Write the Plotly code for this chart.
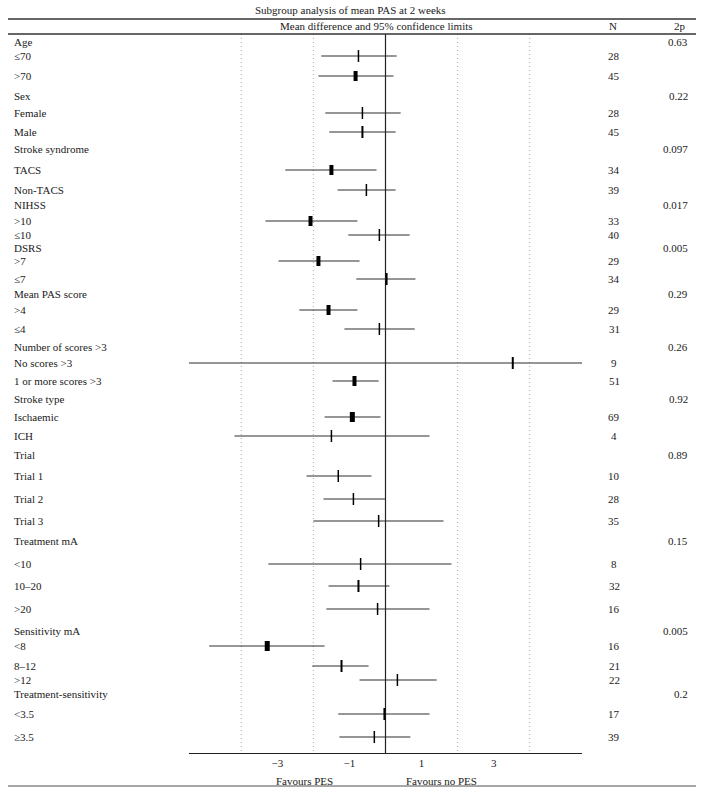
import plotly.graph_objects as go

W, H = 703, 794

# ---------------- data ----------------
labels = ["Age", "≤70", ">70",
          "Sex", "Female", "Male",
          "Stroke syndrome", "TACS", "Non-TACS",
          "NIHSS", ">10", "≤10",
          "DSRS", ">7", "≤7",
          "Mean PAS score", ">4", "≤4",
          "Number of scores >3", "No scores >3", "1 or more scores >3",
          "Stroke type", "Ischaemic", "ICH",
          "Trial", "Trial 1", "Trial 2", "Trial 3",
          "Treatment mA", "<10", "10–20", ">20",
          "Sensitivity mA", "<8", "8–12", ">12",
          "Treatment-sensitivity", "<3.5", "≥3.5"]

estimate = [None, -0.75, -0.83,
            None, -0.64, -0.64,
            None, -1.50, -0.53,
            None, -2.08, -0.17,
            None, -1.86, 0.03,
            None, -1.58, -0.17,
            None, 3.53, -0.86,
            None, -0.92, -1.50,
            None, -1.31, -0.89, -0.19,
            None, -0.69, -0.75, -0.22,
            None, -3.28, -1.22, 0.33,
            None, -0.03, -0.31]

ci_low = [None, -1.78, -1.86,
          None, -1.67, -1.56,
          None, -2.78, -1.33,
          None, -3.33, -1.03,
          None, -2.97, -0.81,
          None, -2.39, -1.14,
          None, -5.45, -1.47,
          None, -1.69, -4.19,
          None, -2.19, -1.72, -2.00,
          None, -3.25, -1.58, -1.64,
          None, -4.89, -2.03, -0.72,
          None, -1.31, -1.28]

ci_high = [None, 0.31, 0.22,
           None, 0.42, 0.28,
           None, -0.25, 0.28,
           None, -0.78, 0.67,
           None, -0.72, 0.83,
           None, -0.78, 0.81,
           None, 5.45, -0.19,
           None, -0.14, 1.22,
           None, -0.39, 0.00, 1.61,
           None, 1.83, 0.11, 1.22,
           None, -1.69, -0.47, 1.42,
           None, 1.22, 0.69]

n_vals = ["", "28", "45",
          "", "28", "45",
          "", "34", "39",
          "", "33", "40",
          "", "29", "34",
          "", "29", "31",
          "", "9", "51",
          "", "69", "4",
          "", "10", "28", "35",
          "", "8", "32", "16",
          "", "16", "21", "22",
          "", "17", "39"]

p_vals = ["0.63", "", "",
          "0.22", "", "",
          "0.097", "", "",
          "0.017", "", "",
          "0.005", "", "",
          "0.29", "", "",
          "0.26", "", "",
          "0.92", "", "",
          "0.89", "", "", "",
          "0.15", "", "", "",
          "0.005", "", "", "",
          "0.2", "", ""]

x_ticks = [-3, -1, 1, 3]
x_tick_text = ["−3", "−1", "1", "3"]
ref_lines = [-4, -2, 2, 4]

# ---------------- layout (row positions in page pixels, marker widths) ----------------
row_y = [42, 56, 76,
         96, 113, 132,
         149, 170, 190,
         205, 221, 235,
         248, 261, 279,
         294, 310, 329,
         347, 363, 381,
         399, 417, 436,
         455, 476, 499, 521,
         541, 564, 586, 609,
         631, 646, 666, 680,
         694, 714, 737]

marker_w = [0, 1.5, 4,
            0, 1.5, 2,
            0, 4, 1.5,
            0, 4, 1.5,
            0, 4, 2,
            0, 4, 1.5,
            0, 2, 4,
            0, 5, 1.5,
            0, 1.5, 1.5, 1.5,
            0, 1.5, 2, 1.5,
            0, 5, 2, 1.5,
            0, 2, 1.5]

FONT = "Liberation Serif"
FS = 11
TXT = "#1a1a1a"
AX_TOP, AX_BOT = 34, 753
X_L, X_R = 189, 582


def py(p):
    return (H - p) / H


fig = go.Figure()

# confidence interval lines
xs, ys = [], []
for e, l, h, y in zip(estimate, ci_low, ci_high, row_y):
    if e is None:
        continue
    xs += [l, h, None]
    ys += [y, y, None]
fig.add_trace(go.Scatter(x=xs, y=ys, mode="lines",
                         line=dict(color="#2e2e2e", width=1.1),
                         hoverinfo="skip", showlegend=False))

shapes = []
# reference dotted lines
for v in ref_lines:
    shapes.append(dict(type="line", xref="x", yref="y", x0=v, x1=v, y0=AX_TOP, y1=AX_BOT,
                       line=dict(color="#a8a8a8", width=1, dash="1px,3px"), layer="below"))
# zero line
shapes.append(dict(type="line", xref="x", yref="y", x0=0, x1=0, y0=AX_TOP, y1=AX_BOT,
                   line=dict(color="#222", width=1.2)))
# estimate markers
for e, y, w in zip(estimate, row_y, marker_w):
    if e is None:
        continue
    hgt = 10 if w >= 4 else 12
    shapes.append(dict(type="rect", xref="x", yref="y",
                       xsizemode="pixel", ysizemode="pixel",
                       xanchor=e, yanchor=y,
                       x0=-w / 2, x1=w / 2, y0=-hgt / 2, y1=hgt / 2,
                       fillcolor="#000", line=dict(width=0)))
# horizontal rules
for yy, col, wd in [(19, "#333", 1.3), (34, "#333", 1.3), (786, "#8a8a8a", 1.5)]:
    shapes.append(dict(type="line", xref="paper", yref="paper",
                       x0=8 / W, x1=696 / W, y0=py(yy), y1=py(yy),
                       line=dict(color=col, width=wd)))

ann = []


def txt(text, x, y, xanchor="left", yref="y"):
    ann.append(dict(text=text, xref="paper", x=x / W, yref=yref,
                    y=y if yref == "y" else py(y),
                    xanchor=xanchor, yanchor="middle", showarrow=False,
                    font=dict(family=FONT, size=FS, color=TXT)))


txt("Subgroup analysis of mean PAS at 2 weeks", 350, 10, "center", "paper")
txt("Mean difference and 95% confidence limits", 377, 26, "center", "paper")
txt("N", 613, 26, "center", "paper")
txt("2p", 680, 26, "center", "paper")
for lab, n, p, y in zip(labels, n_vals, p_vals, row_y):
    txt(lab, 12, y, "left")
    if n:
        txt(n, 614, y, "center")
    if p:
        txt(p, 690, y, "right")
txt("Favours PES", 304, 781, "center", "paper")
txt("Favours no PES", 442, 781, "center", "paper")

fig.update_layout(
    width=W, height=H,
    margin=dict(l=0, r=0, t=0, b=0),
    paper_bgcolor="white", plot_bgcolor="white",
    shapes=shapes, annotations=ann, showlegend=False,
    xaxis=dict(domain=[X_L / W, X_R / W], range=[-5.45, 5.45],
               tickvals=x_ticks, ticktext=x_tick_text, ticks="",
               showgrid=False, zeroline=False, showline=True,
               linecolor="#222", linewidth=1.2,
               tickfont=dict(family=FONT, size=FS, color=TXT)),
    yaxis=dict(domain=[py(AX_BOT), py(AX_TOP)], range=[AX_BOT, AX_TOP],
               visible=False, showgrid=False, zeroline=False),
)

fig.write_html("out.html",
               config={"displayModeBar": False, "staticPlot": True},
               post_script="document.body.style.margin='0px';document.body.style.overflow='hidden';")
